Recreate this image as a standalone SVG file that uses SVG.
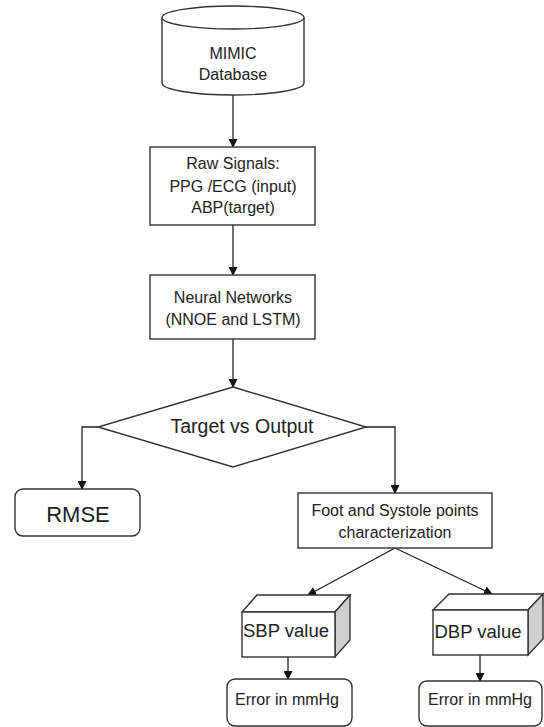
<svg xmlns="http://www.w3.org/2000/svg" width="544" height="727" viewBox="0 0 544 727">
<defs>
<style>
.s{fill:#fff;stroke:#333;stroke-width:1.4}
.g{fill:#cfcfcf;stroke:#333;stroke-width:1.4}
.c{fill:none;stroke:#222;stroke-width:1.3}
text{font-family:"Liberation Sans",Arial,sans-serif;fill:#222;text-anchor:middle}
.t16{font-size:16px}
</style>
<marker id="ah" markerWidth="9" markerHeight="9" refX="8" refY="4.5" orient="auto" markerUnits="userSpaceOnUse">
<path d="M0,0 L9,4.5 L0,9 Z" fill="#111"/>
</marker>
</defs>
<rect width="544" height="727" fill="#fff"/>
<g id="connectors">
<line class="c" x1="233" y1="95" x2="233" y2="147" marker-end="url(#ah)"/>
<line class="c" x1="233" y1="225" x2="233" y2="275" marker-end="url(#ah)"/>
<line class="c" x1="233" y1="339" x2="233" y2="387" marker-end="url(#ah)"/>
<polyline class="c" points="98,427 82,427 82,489" marker-end="url(#ah)"/>
<polyline class="c" points="365,427 395,427 395,493" marker-end="url(#ah)"/>
<line class="c" x1="395" y1="548" x2="308" y2="595" marker-end="url(#ah)"/>
<line class="c" x1="395" y1="548" x2="492" y2="594" marker-end="url(#ah)"/>
<line class="c" x1="288" y1="657" x2="288" y2="679" marker-end="url(#ah)"/>
<line class="c" x1="480" y1="655" x2="480" y2="681" marker-end="url(#ah)"/>
</g>
<g id="mimic">
<path class="s" d="M162,17.5 L162,83 A71,12 0 0 0 304,83 L304,17.5"/>
<ellipse class="s" cx="233" cy="17.5" rx="71" ry="11.5"/>
<text class="t16" x="233" y="59">MIMIC</text>
<text class="t16" x="233" y="80">Database</text>
</g>
<g id="raw">
<rect class="s" x="150" y="147" width="165" height="78"/>
<text class="t16" x="233" y="169">Raw Signals:</text>
<text class="t16" x="233" y="192">PPG /ECG (input)</text>
<text class="t16" x="233" y="213">ABP(target)</text>
</g>
<g id="nn">
<rect class="s" x="150" y="275" width="165" height="64"/>
<text class="t16" x="233" y="303">Neural Networks</text>
<text class="t16" x="233" y="325">(NNOE and LSTM)</text>
</g>
<g id="decision">
<polygon class="s" points="233,387 366,427 233,467 98,427"/>
<text x="242" y="433" font-size="19.5">Target vs Output</text>
</g>
<g id="rmse">
<rect class="s" x="15" y="489" width="125" height="47" rx="8"/>
<text x="78" y="522" font-size="22">RMSE</text>
</g>
<g id="foot">
<rect class="s" x="298" y="493" width="194" height="55"/>
<text class="t16" x="395" y="516">Foot  and Systole points</text>
<text class="t16" x="395" y="538">characterization</text>
</g>
<g id="sbp">
<polygon class="s" points="242,612 257,595 350,595 335,612"/>
<polygon class="g" points="335,612 350,595 350,640 335,657"/>
<rect class="s" x="242" y="612" width="93" height="45"/>
<text x="286" y="637" font-size="18.5">SBP value</text>
</g>
<g id="dbp">
<polygon class="s" points="433,610 449,594 543,594 528,610"/>
<polygon class="g" points="528,610 543,594 543,639 528,655"/>
<rect class="s" x="433" y="610" width="95" height="45"/>
<text x="478" y="638" font-size="18.5">DBP value</text>
</g>
<g id="err1">
<rect class="s" x="227" y="679" width="125" height="47" rx="8"/>
<text x="287" y="705" font-size="16">Error in mmHg</text>
</g>
<g id="err2">
<rect class="s" x="419" y="681" width="123" height="45" rx="8"/>
<text x="480" y="705" font-size="16">Error in mmHg</text>
</g>
</svg>
